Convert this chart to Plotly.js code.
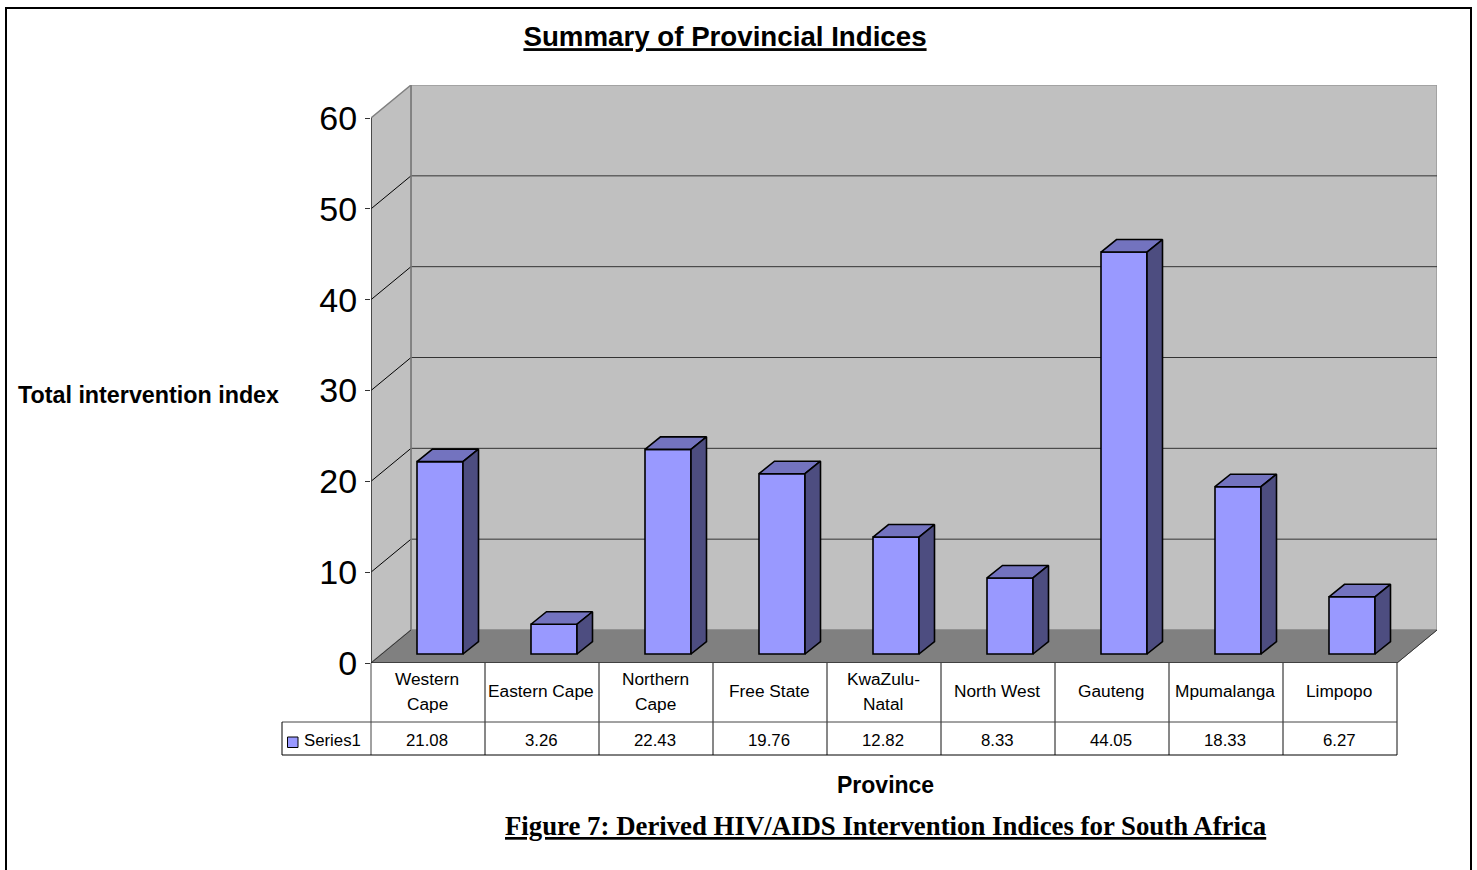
<!DOCTYPE html>
<html><head><meta charset="utf-8">
<script src="https://cdn.plot.ly/plotly-3.0.1.min.js"></script>
<style>html,body{margin:0;padding:0;background:#fff}#c{width:1477px;height:870px}</style>
</head><body><div id="c"></div>
<script>
const provinces = ["Western<br>Cape","Eastern Cape","Northern<br>Cape","Free State","KwaZulu-<br>Natal","North West","Gauteng","Mpumalanga","Limpopo"];
const indices = [21.08,3.26,22.43,19.76,12.82,8.33,44.05,18.33,6.27];
const valueLabels = ["21.08","3.26","22.43","19.76","12.82","8.33","44.05","18.33","6.27"];
const yTicks = [0,10,20,30,40,50,60];
const seriesName = "Series1";

const W=1477,H=870;
const px=x=>x/W, py=y=>1-y/H;
const SANS="Liberation Sans, Arial, sans-serif", SERIF="Liberation Serif, Times New Roman, serif";
// depth of the 3D box, in axis units
const wallDX=40/114, wallDY=33/9.083;
const barW=46/114, barShift=12/114, barDX=15.5/114, barDY=12.5/9.125;
const xMax=9+wallDX, yMax=60+wallDY;

const topX=[],topY=[],sideX=[],sideY=[];
indices.forEach((v,i)=>{
  const l=i+0.5+barShift-barW/2, r=l+barW;
  topX.push(l,r,r+barDX,l+barDX,l,null); topY.push(v,v,v+barDY,v+barDY,v,null);
  sideX.push(r,r+barDX,r+barDX,r,r,null); sideY.push(0,barDY,v+barDY,v,0,null);
});
const edge={color:'#000',width:1.6};
const traces=[
 {type:'scatter',x:[0],y:[0],xaxis:'x',yaxis:'y',mode:'none',hoverinfo:'skip',showlegend:false},
 {type:'bar',name:seriesName,x:indices.map((v,i)=>i+0.5+barShift),y:indices,width:barW,base:0,xaxis:'x',yaxis:'y2',
  marker:{color:'#9999FF',line:{color:'#000',width:1.6}},showlegend:false},
 {type:'scatter',x:topX,y:topY,xaxis:'x',yaxis:'y2',mode:'lines',fill:'toself',fillcolor:'#7373BF',line:edge,hoverinfo:'skip',showlegend:false},
 {type:'scatter',x:sideX,y:sideY,xaxis:'x',yaxis:'y2',mode:'lines',fill:'toself',fillcolor:'#4D4D80',line:edge,hoverinfo:'skip',showlegend:false}
];

const shapes=[];
const poly=(pts,fill,lineC,lineW)=>({type:'path',xref:'x',yref:'y',layer:'below',
  path:'M'+pts.map(p=>p.join(',')).join('L')+'Z',fillcolor:fill,line:{color:lineC,width:lineW}});
const seg=(x0,y0,x1,y1,c,w,xr,yr)=>({type:'line',xref:xr||'x',yref:yr||'y',layer:'below',x0,y0,x1,y1,line:{color:c,width:w}});
shapes.push(poly([[wallDX,wallDY],[xMax,wallDY],[xMax,yMax],[wallDX,yMax]],'#C0C0C0','#999999',1.5));
shapes.push(poly([[0,0],[wallDX,wallDY],[wallDX,yMax],[0,60]],'#C0C0C0','#808080',1.5));
shapes.push(poly([[0,0],[9,0],[xMax,wallDY],[wallDX,wallDY]],'#808080','#808080',1));
yTicks.slice(1,-1).forEach(t=>{
  shapes.push(seg(wallDX,t+wallDY,xMax,t+wallDY,'#333333',1));
  shapes.push(seg(0,t,wallDX,t+wallDY,'#000',1));
});
shapes.push(seg(wallDX,0+wallDY,wallDX,yMax,'#808080',1.5));
shapes.push(seg(0,0,0,60,'#333333',1.5));
shapes.push(seg(0,0,wallDX,wallDY,'#333333',1));
shapes.push(seg(9,0,xMax,wallDY,'#333333',1));
shapes.push(seg(0,0,9,0,'#000',1.2));
// data table
const rule=(x0,y0,x1,y1,c,w)=>({type:'line',xref:'paper',yref:'paper',x0:px(x0),y0:py(y0),x1:px(x1),y1:py(y1),line:{color:c||'#000',width:w||1}});
for(let i=0;i<=9;i++){shapes.push(rule(371+114*i,663,371+114*i,755,i==0?'#444':'#111',1));}
shapes.push(rule(282,722,1397,722,'#444',1));
shapes.push(rule(282,755,1397,755,'#000',1));
shapes.push(rule(282,722,282,755,'#000',1));
shapes.push({type:'rect',xref:'paper',yref:'paper',x0:px(287.5),x1:px(298),y0:py(747.5),y1:py(737),fillcolor:'#9999FF',line:{color:'#000',width:1}});
// page frame
shapes.push({type:'path',xref:'paper',yref:'paper',path:`M${px(6)},0 L${px(6)},${py(8)} L${px(1471)},${py(8)} L${px(1471)},0`,line:{color:'#000',width:2}});

const ann=[];
const txt=(text,x,y,size,fam,xanchor)=>({text,xref:'paper',yref:'paper',x:px(x),y:py(y),xanchor:xanchor||'center',yanchor:'middle',showarrow:false,font:{family:fam||SANS,size,color:'#000'}});
provinces.forEach((p,i)=>{
  const lines=p.split('<br>');
  lines.forEach((ln,k)=>{
    const yy=lines.length==2?(k==0?679:703.5):691;
    ann.push({text:ln,xref:'x',yref:'paper',x:i+0.5-1/114,y:py(yy),xanchor:'center',yanchor:'middle',showarrow:false,font:{family:SANS,size:17.3,color:'#000'}});
  });
  ann.push({text:valueLabels[i],xref:'x',yref:'paper',x:i+0.5-1/114,y:py(740),xanchor:'center',yanchor:'middle',showarrow:false,font:{family:SANS,size:16.8,color:'#000'}});
});
ann.push(txt(seriesName,301.5,740.5,16.8,SANS,'left'));
ann.push(txt('<b>Total intervention index</b>',148.5,395,23.3));
ann.push(txt('<b>Province</b>',885.5,785,23));
ann.push(txt('<b><u>Figure 7: Derived HIV/AIDS Intervention Indices for South Africa</u></b>',885,826,26.8,SERIF));

const layout={
  width:W,height:H,autosize:false,margin:{l:0,r:0,t:0,b:0},
  paper_bgcolor:'#fff',plot_bgcolor:'rgba(0,0,0,0)',showlegend:false,
  title:{text:'<b><u>Summary of Provincial Indices</u></b>',x:725/W,xanchor:'center',xref:'paper',y:py(36.5),yref:'paper',yanchor:'middle',font:{family:SANS,size:27.7,color:'#000'}},
  xaxis:{domain:[px(371),px(371+114*xMax/1)],range:[0,xMax],showgrid:false,zeroline:false,showticklabels:false,ticks:'',showline:false},
  yaxis:{domain:[py(663),py(663-9.083*yMax)],range:[0,yMax],tickmode:'array',tickvals:yTicks,ticktext:yTicks.map(String),
    ticks:'outside',ticklen:5,tickcolor:'#333',tickwidth:1,showgrid:false,zeroline:false,showline:false,
    tickfont:{family:SANS,size:34,color:'#000'},ticklabelstandoff:1,ticklabelshift:-1.5},
  yaxis2:{domain:[py(663),py(663-9.083*yMax)],overlaying:'y',side:'left',
    range:[-9/9.125,(654-(663-9.083*yMax))/9.125],showgrid:false,zeroline:false,showticklabels:false,ticks:'',showline:false},
  shapes,annotations:ann
};
Plotly.newPlot('c',traces,layout,{displayModeBar:false,staticPlot:true});
</script></body></html>
